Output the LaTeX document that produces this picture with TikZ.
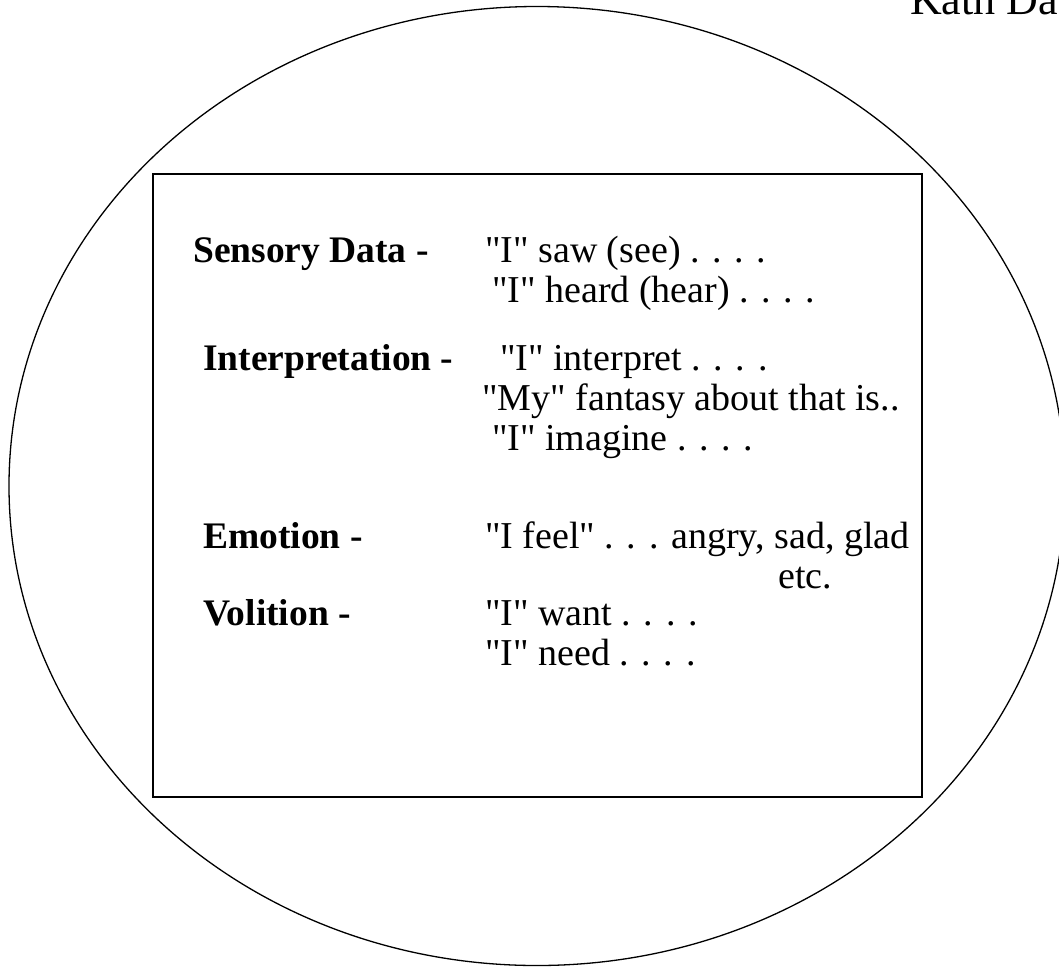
\documentclass[tikz,border=0pt]{standalone}
\usepackage{fontspec}
\setmainfont{Liberation Serif}[Ligatures=TeXOff]
\begin{document}
\begin{tikzpicture}[x=1pt,y=-1pt,
  lab/.style={anchor=base west, inner sep=0pt, font=\fontsize{37.5}{40}\selectfont\bfseries},
  txt/.style={anchor=base west, inner sep=0pt, font=\fontsize{38}{40}\selectfont},
  oval/.style={line width=1.3pt},
  frame/.style={draw, line width=2pt, inner sep=0pt}]
\useasboundingbox (0,0) rectangle (1059,967);
\draw[oval] (537,486) ellipse [x radius=528, y radius=479.5];
\node[frame, minimum width=769pt, minimum height=623pt] (box) at (537.5,485.5) {};
\node[anchor=base west, inner sep=0pt, font=\fontsize{44}{48}\selectfont] (title) at (910,14) {Kath Da};
\node[lab] (l1) at (193,262) {Sensory Data -};
\node[txt] (t1) at (485,262) {"I" saw (see) . . . .};
\node[txt] (t2) at (492,302) {"I" heard (hear) . . . .};
\node[lab] (l2) at (203,370) {Interpretation -};
\node[txt] (t3) at (500,370) {"I" interpret . . . .};
\node[txt] (t4) at (482,410) {"My" fantasy about that is..};
\node[txt] (t5) at (492,450) {"I" imagine . . . .};
\node[lab] (l3) at (203,548) {Emotion -};
\node[txt] (t6) at (485,548) {"I feel" . . . angry, sad, glad};
\node[txt] (t7) at (778,588) {etc.};
\node[lab] (l4) at (203,625) {Volition -};
\node[txt] (t8) at (485,625) {"I" want . . . .};
\node[txt] (t9) at (485,665) {"I" need . . . .};
\end{tikzpicture}
\end{document}
